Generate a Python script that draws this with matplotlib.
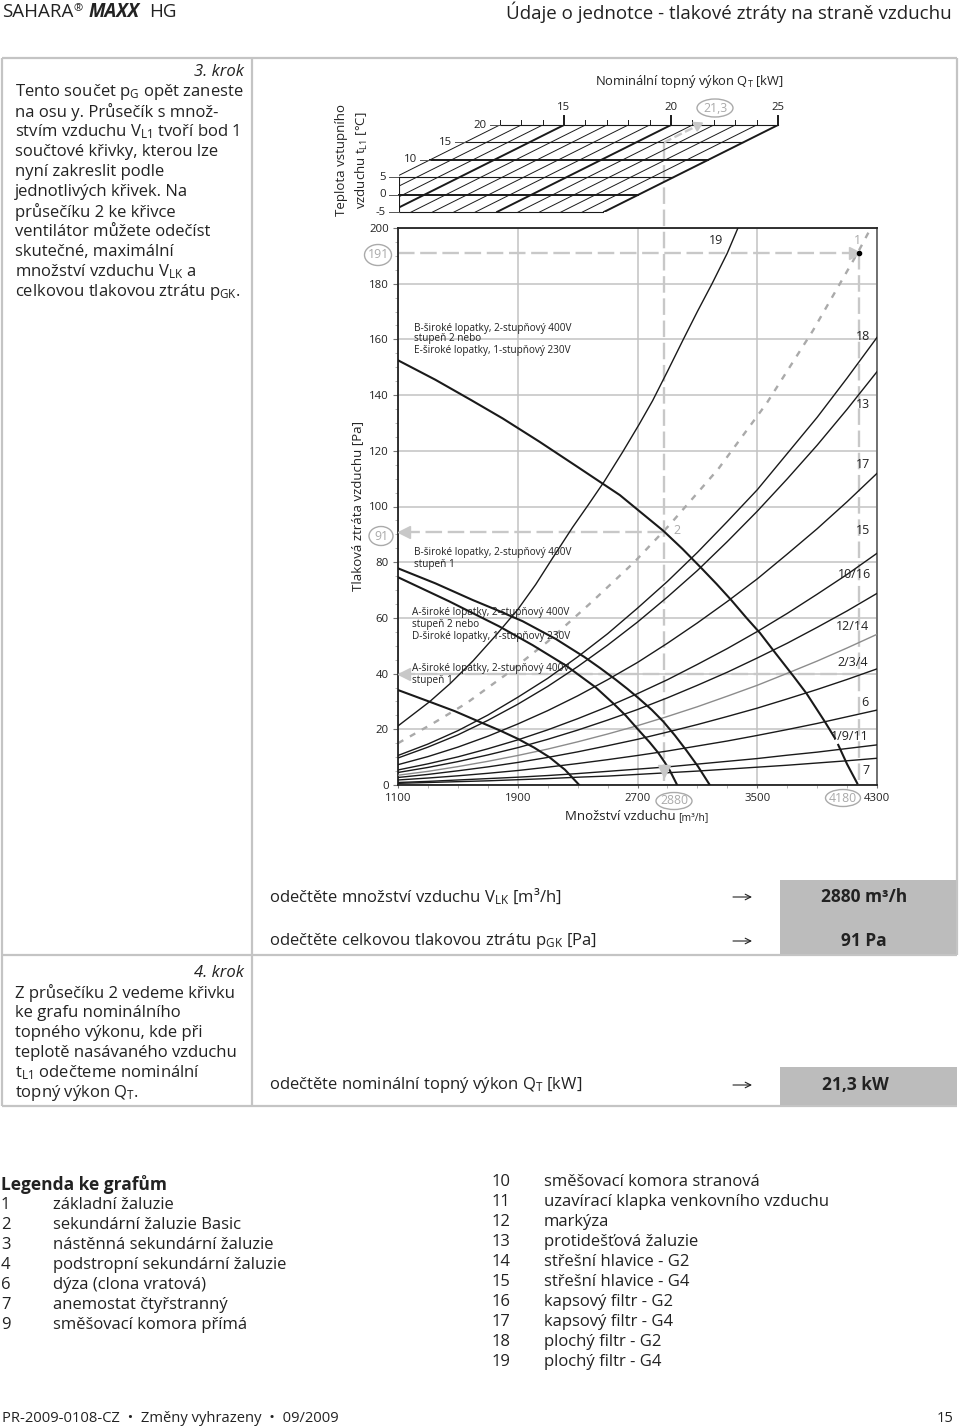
import matplotlib
matplotlib.use("Agg")
import matplotlib.pyplot as plt
from matplotlib.patches import Ellipse, Rectangle

plt.rcParams['font.family'] = ['Open Sans', 'DejaVu Sans']
plt.rcParams['mathtext.default'] = 'regular'

W, H = 960, 1427
DARK = '#222222'
GRID = '#c2c2c2'
DASH = '#c8c8c8'
CIRC = '#aaaaaa'

# vzduch [m3/h] -> tlak [Pa]
flow_sys = [1100, 1300, 1500, 1700, 1900, 2100, 2300, 2500, 2700, 2900, 3100, 3300, 3500, 3700, 3900, 4100, 4300]
sys_18 = [10.6, 14.7, 19.5, 25.1, 31.5, 38.3, 46, 54.3, 63.5, 73.1, 83.5, 94.6, 106, 119, 132, 146.1, 160.7]
sys_13 = [9.7, 13.6, 18, 23.2, 29, 35.4, 42.5, 50.2, 58.5, 67.5, 77, 87.4, 98.3, 109.9, 122, 134.9, 148.4]
sys_17 = [7.3, 10.2, 13.6, 17.5, 21.9, 26.7, 32, 37.8, 44, 50.9, 58.2, 65.9, 74, 82.9, 92, 101.7, 111.9]
sys_15 = [5.4, 7.6, 10.1, 13, 16.2, 19.8, 23.8, 28.1, 32.8, 37.8, 43.3, 49, 55.1, 61.6, 68.5, 75.6, 83.2]
sys_10_16 = [4.5, 6.3, 8.4, 10.8, 13.4, 16.4, 19.7, 23.3, 27.1, 31.3, 35.8, 40.5, 45.6, 50.9, 56.6, 62.5, 68.8]
sys_12_14 = [3.5, 4.9, 6.6, 8.5, 10.6, 12.9, 15.5, 18.3, 21.3, 24.6, 28.1, 31.9, 35.8, 40.1, 44.5, 49.2, 54.1]
sys_2_3_4 = [2.7, 3.8, 5.1, 6.5, 8.1, 9.9, 11.9, 14.1, 16.4, 19, 21.7, 24.6, 27.6, 30.9, 34.3, 37.9, 41.7]
sys_6 = [1.8, 2.5, 3.3, 4.2, 5.2, 6.4, 7.7, 9.1, 10.6, 12.2, 14, 15.8, 17.8, 19.9, 22.1, 24.5, 26.9]
sys_1_9_11 = [0.9, 1.3, 1.8, 2.3, 2.8, 3.4, 4.1, 4.9, 5.7, 6.5, 7.5, 8.5, 9.5, 10.7, 11.8, 13.1, 14.4]
sys_7 = [0.6, 0.9, 1.2, 1.5, 1.9, 2.3, 2.8, 3.2, 3.8, 4.4, 5, 5.7, 6.4, 7.1, 7.9, 8.7, 9.6]

flow_19 = [1100, 1311, 1450, 1600, 1750, 1900, 2020, 2133, 2266, 2370, 2478, 2600, 2711, 2801, 2900, 3006, 3100, 3198, 3300, 3371]
sys_19 = [21.2, 29.9, 36.5, 44.5, 53.5, 63, 72, 81.5, 92.5, 100.5, 109, 119.5, 129.5, 138, 148.5, 160, 170, 180, 191, 200]

flow_sum = [1100, 1330, 1556, 1830, 2100, 2390, 2678, 2916, 3240, 3562, 3870, 4170, 4259]
sum_curve = [15, 22, 29.3, 40, 51.5, 65.5, 80, 93.5, 113.5, 137, 163, 191, 200]

flow_f1 = [1100, 1350, 1589, 1800, 2044, 2300, 2582, 2711, 2872, 3000, 3128, 3228, 3328, 3428, 3518, 3618, 3740, 3830, 3952, 4019]
fan_1a = [152.5, 145.5, 138.2, 131.6, 123.3, 114.2, 104.1, 98.4, 91.3, 84.8, 77.8, 72.2, 66.3, 60, 54.6, 47.6, 39.2, 32.8, 22.7, 16.8]
flow_f1b = [4041, 4100, 4168]
fan_1b = [14.4, 7.5, 0.6]
flow_f2 = [1100, 1350, 1600, 1770, 1933, 2155, 2344, 2450, 2555, 2633, 2711, 2795, 2872, 2950, 3027, 3105, 3183]
fan_2 = [77.8, 72.4, 66.4, 62.6, 58.8, 52.4, 46, 42, 37.8, 34.5, 31, 27, 22.8, 17.8, 12.4, 6.6, 0]
flow_f3 = [1100, 1440, 1778, 2000, 2222, 2422, 2540, 2622, 2716, 2780, 2838, 2880, 2916, 2965]
fan_3 = [74.6, 66, 56.9, 50.2, 42.9, 35, 29.2, 24.9, 19.2, 15.4, 11.6, 8.3, 5.2, 0]
flow_f4 = [1100, 1311, 1480, 1644, 1780, 1900, 2010, 2111, 2215, 2311]
fan_4 = [34.1, 29.9, 26.5, 22.7, 19.6, 16.6, 13.4, 10, 5.5, 0]

x_major = [1100, 1900, 2700, 3500, 4300]
x_minor = list(range(1100, 4301, 200))
y_major = list(range(0, 201, 20))
y_minor = list(range(0, 201, 5))

# horni graf: vykon [kW], teplota [C]
kw_all = list(range(12, 26))
kw_bold = [15, 20, 25]
temps = [20, 15, 10, 5, 0, -5]
temps_bold = [10, 0]

V_L1 = 4180
P_G = 191
P_40 = 40
V_LK = 2880
P_GK = 91
Q_T = 21.3
T_L1 = 15
SKEW = 0.3266  # kW posun na 1 C

fig = plt.figure(figsize=(W / 100, H / 100), dpi=100)


def box(x0, ytop, x1, ybot):
    return [x0 / W, 1 - ybot / H, (x1 - x0) / W, (ybot - ytop) / H]


page = fig.add_axes([0, 0, 1, 1])
page.set_xlim(0, W)
page.set_ylim(H, 0)
page.axis('off')


def txt(x, y, s, size=12, target=None, **kw):
    kw.setdefault('va', 'center')
    kw.setdefault('color', DARK)
    (target or page).text(x, y, s, fontsize=size, **kw)


# ramecky
for xs, ys in [([2, 957], [58, 58]), ([2, 957], [955, 955]), ([2, 957], [1106, 1106]),
               ([2, 2], [58, 1106]), ([957, 957], [58, 955]), ([252, 252], [58, 1106])]:
    page.plot(xs, ys, color='#c4c4c4', lw=1.6, solid_capstyle='butt')
page.add_patch(Rectangle((780, 880), 177, 75, color='#bcbcbc', lw=0))
page.add_patch(Rectangle((780, 1067), 177, 39, color='#bcbcbc', lw=0))

# hlavicka
txt(2, 12, 'SAHARA', 13.5)
txt(74, 9, '®', 8)
txt(89, 12, 'MAXX', 13.5, fontweight='bold', fontstyle='italic')
txt(149, 12, 'HG', 13.5)
txt(952, 12, 'Údaje o jednotce - tlakové ztráty na straně vzduchu', 13.5, ha='right')

# levy sloupec
txt(244, 72, '3. krok', fontstyle='italic', ha='right')
steps3 = ['Tento součet p$_{G}$ opět zaneste', 'na osu y. Průsečík s množ-',
          'stvím vzduchu V$_{L1}$ tvoří bod 1', 'součtové křivky, kterou lze',
          'nyní zakreslit podle', 'jednotlivých křivek. Na',
          'průsečíku 2 ke křivce', 'ventilátor můžete odečíst',
          'skutečné, maximální', 'množství vzduchu V$_{LK}$ a',
          'celkovou tlakovou ztrátu p$_{GK}$.']
for i, s in enumerate(steps3):
    txt(15, 92 + 20 * i, s)
txt(244, 973, '4. krok', fontstyle='italic', ha='right')
steps4 = ['Z průsečíku 2 vedeme křivku', 'ke grafu nominálního',
          'topného výkonu, kde při', 'teplotě nasávaného vzduchu',
          't$_{L1}$ odečteme nominální', 'topný výkon Q$_{T}$.']
for i, s in enumerate(steps4):
    txt(15, 993 + 20 * i, s)

# odecty
reads = [(897, 'odečtěte množství vzduchu V$_{LK}$ [m³/h]', '2880 m³/h', 864),
         (941, 'odečtěte celkovou tlakovou ztrátu p$_{GK}$ [Pa]', '91 Pa', 864),
         (1085, 'odečtěte nominální topný výkon Q$_{T}$ [kW]', '21,3 kW', 855)]
for y, s, v, cx in reads:
    txt(269, y, s)
    page.annotate('', xy=(752, y), xytext=(733, y),
                  arrowprops=dict(arrowstyle='->', lw=0.8, color=DARK, shrinkA=0, shrinkB=0))
    txt(cx, y, v, 12.5, ha='center', fontweight='bold')

# legenda
txt(1, 1184, 'Legenda ke grafům', 12.5, fontweight='bold')
legend_a = [('1', 'základní žaluzie'), ('2', 'sekundární žaluzie Basic'),
            ('3', 'nástěnná sekundární žaluzie'), ('4', 'podstropní sekundární žaluzie'),
            ('6', 'dýza (clona vratová)'), ('7', 'anemostat čtyřstranný'),
            ('9', 'směšovací komora přímá')]
legend_b = [('10', 'směšovací komora stranová'), ('11', 'uzavírací klapka venkovního vzduchu'),
            ('12', 'markýza'), ('13', 'protidešťová žaluzie'), ('14', 'střešní hlavice - G2'),
            ('15', 'střešní hlavice - G4'), ('16', 'kapsový filtr - G2'),
            ('17', 'kapsový filtr - G4'), ('18', 'plochý filtr - G2'), ('19', 'plochý filtr - G4')]
for i, (n, s) in enumerate(legend_a):
    txt(1, 1205 + 20 * i, n)
    txt(53, 1205 + 20 * i, s)
for i, (n, s) in enumerate(legend_b):
    txt(492, 1182 + 20 * i, n)
    txt(544, 1182 + 20 * i, s)
txt(2, 1418, 'PR-2009-0108-CZ  •  Změny vyhrazeny  •  09/2009', 10.6)
txt(954, 1418, '15', 10.6, ha='right')

# popisky os
txt(358, 506, 'Tlaková ztráta vzduchu [Pa]', 9.5, rotation=90, ha='center')
txt(342, 160, 'Teplota vstupního', 9.5, rotation=90, ha='center')
txt(362, 160, 'vzduchu t$_{L1}$ [°C]', 9.5, rotation=90, ha='center')
txt(689, 82, 'Nominální topný výkon Q$_{T}$ [kW]', 9.3, ha='center')
txt(565, 817, 'Množství vzduchu', 9.5)
txt(678, 818, '[m³/h]', 7.5)

# hlavni graf
ax = fig.add_axes(box(398, 228, 877, 785))
ax.patch.set_alpha(0)
ax.set_xlim(1100, 4300)
ax.set_ylim(0, 200)
ax.set_xticks(x_major)
ax.set_xticks(x_minor, minor=True)
ax.set_yticks(y_major)
ax.set_yticks(y_minor, minor=True)
ax.grid(True, which='major', color=GRID, lw=1.1, zorder=0)
ax.set_axisbelow(True)
ax.tick_params(axis='y', which='major', length=3.5, width=0.8, color='#777777',
               labelsize=8.2, labelcolor=DARK, pad=3)
ax.tick_params(axis='x', which='major', length=2.5, width=0.8, color='#777777',
               labelsize=8.2, labelcolor=DARK, pad=3)
ax.tick_params(axis='both', which='minor', length=2.5, width=0.5, color='#999999')
for name, spine in ax.spines.items():
    spine.set_linewidth(1.3)
    spine.set_color('#666666' if name == 'right' else DARK)

for vals in [sys_18, sys_13, sys_17, sys_15, sys_10_16, sys_2_3_4, sys_6, sys_1_9_11, sys_7]:
    ax.plot(flow_sys, vals, color='#1a1a1a', lw=1.0, zorder=3)
ax.plot(flow_sys, sys_12_14, color='#8c8c8c', lw=1.0, zorder=3)
ax.plot(flow_19, sys_19, color='#1a1a1a', lw=1.0, zorder=3)
for fx, fy in [(flow_f1, fan_1a), (flow_f1b, fan_1b), (flow_f2, fan_2),
               (flow_f3, fan_3), (flow_f4, fan_4)]:
    ax.plot(fx, fy, color='#1a1a1a', lw=1.5, zorder=3)
ax.plot(flow_sum, sum_curve, color='#aaaaaa', lw=1.7, ls=(0, (2.6, 3.2)), zorder=2)

# pomocne carkovane cary
dash_style = dict(color=DASH, lw=1.7, ls=(0, (7, 2.4)), zorder=2.5, clip_on=False)
ax.plot([1100, V_L1], [P_G, P_G], **dash_style)
ax.plot([V_L1, V_L1], [P_G, 0], **dash_style)
ax.plot([V_L1, 1100], [P_40, P_40], **dash_style)
ax.plot([V_LK, V_LK], [230.5, 0], **dash_style)
ax.plot([V_LK, 1100], [P_GK, P_GK], **dash_style)
ax.plot([V_L1 - 30], [P_G], marker='>', ms=8, color=DASH, zorder=5, clip_on=False)
ax.plot([1140], [P_40], marker='<', ms=8, color=DASH, zorder=5, clip_on=False)
ax.plot([1140], [P_GK], marker='<', ms=8, color=DASH, zorder=5, clip_on=False)
ax.plot([V_LK], [5], marker='v', ms=8, color=DASH, zorder=5, clip_on=False)
ax.plot([V_L1], [P_G], marker='o', ms=3, color='black', zorder=6)

# horni graf
ax_q = fig.add_axes(box(399, 125, 790, 212.3))
ax_q.patch.set_alpha(0)
kw_left = 25 - (778 - 399) / 21.4
kw_right = 25 + (790 - 778) / 21.4
ax_q.set_xlim(kw_left, kw_right)
ax_q.set_ylim(-5, 20)
ax_q.axis('off')


def skew(kw, t):
    return kw - (20 - t) * SKEW


for k in kw_all:
    bold = k in kw_bold
    ax_q.plot([skew(k, 20), skew(k, -5)], [20, -5], color='#1a1a1a', lw=1.4 if bold else 0.7,
              solid_capstyle='butt')
    ax_q.plot([k, k], [20, 22.6 if bold else 21.4], color='#1a1a1a', lw=1.4 if bold else 0.7,
              clip_on=False)
for k in kw_bold:
    ax_q.text(k, 25.1, str(k), fontsize=8.2, ha='center', va='center', color=DARK, clip_on=False)
for t in temps:
    x0 = max(skew(12, t), kw_left)
    ax_q.plot([x0, skew(25, t)], [t, t], color='#1a1a1a', lw=1.4 if t in temps_bold else 0.8,
              clip_on=False)
    ax_q.plot([x0 - 0.45, x0], [t, t], color='#555555', lw=0.7, clip_on=False)
    ax_q.text(x0 - 0.6, t, str(t), fontsize=8.2, ha='right', va='center', color=DARK)
ax_q.plot([kw_left, kw_left], [-5, 5], color='#1a1a1a', lw=0.8)

# odecet vykonu
ax_q.plot([skew(Q_T, T_L1), Q_T - 0.3], [T_L1, 20 - 0.9], color=DASH, lw=1.7, ls=(0, (3.5, 1.5)))
ax_q.plot([Q_T - 0.1], [19.9], marker=(3, 0, -63), ms=8, color=DASH, clip_on=False)

# popisky nad grafem
top = fig.add_axes([0, 0, 1, 1])
top.set_xlim(0, W)
top.set_ylim(H, 0)
top.axis('off')

fan_notes = [(414, 328, 'B-široké lopatky, 2-stupňový 400V'), (414, 339, 'stupeň 2 nebo'),
             (414, 351, 'E-široké lopatky, 1-stupňový 230V'),
             (414, 553, 'B-široké lopatky, 2-stupňový 400V'), (414, 565, 'stupeň 1'),
             (412, 613, 'A-široké lopatky, 2-stupňový 400V'), (412, 625, 'stupeň 2 nebo'),
             (412, 637, 'D-široké lopatky, 1-stupňový 230V'),
             (412, 669, 'A-široké lopatky, 2-stupňový 400V'), (412, 681, 'stupeň 1')]
for x, y, s in fan_notes:
    txt(x, y, s, 7.2, target=top)

curve_labels = [(716, 241, '19', 'center'), (870, 336, '18', 'right'), (870, 404, '13', 'right'),
                (870, 464, '17', 'right'), (870, 530, '15', 'right'), (871, 575, '10/16', 'right'),
                (869, 626, '12/14', 'right'), (868, 663, '2/3/4', 'right'), (868, 702, '6', 'right'),
                (869, 736, '1/9/11', 'right'), (870, 770, '7', 'right')]
for x, y, s, ha in curve_labels:
    txt(x, y, s, 9, target=top, ha=ha)
txt(857, 241, '1', 9, target=top, ha='center', color='#aaaaaa')
txt(677, 530, '2', 9, target=top, ha='center', color='#aaaaaa')

# odecty v ovalech
for cx, cy, w, h, s in [(378, 255, 27, 21, '191'), (381, 536, 24, 19, '91'),
                        (674, 801, 36, 17, '2880'), (843, 798, 35, 17, '4180'),
                        (715, 108, 36, 18, '21,3')]:
    top.add_patch(Ellipse((cx, cy), w, h, fc='white', ec=CIRC, lw=1.0))
    txt(cx, cy, s, 8.8, target=top, ha='center', color='#aaaaaa')

fig.savefig('out.png', dpi=100)
